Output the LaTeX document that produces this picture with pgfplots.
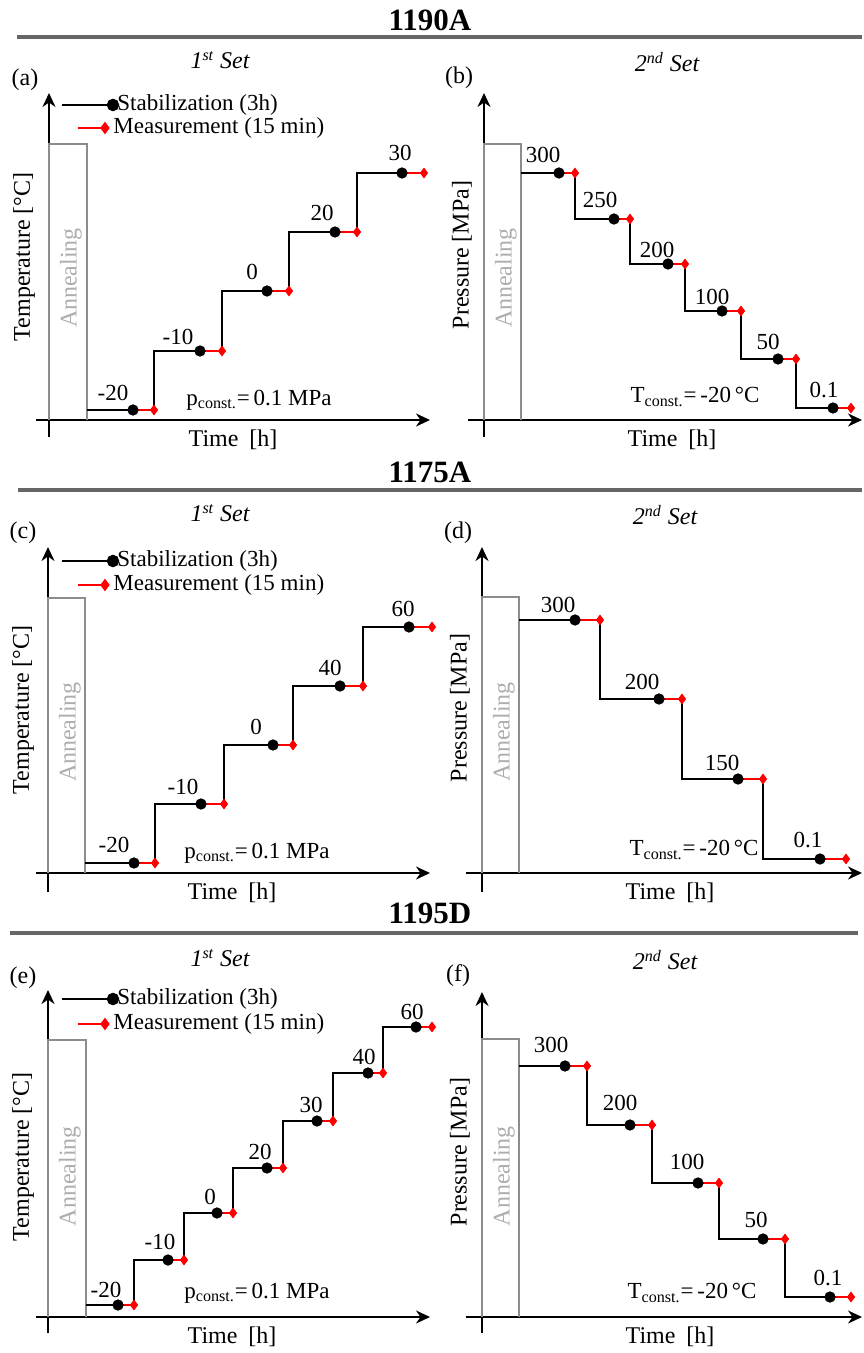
\documentclass[border=0pt]{standalone}
\usepackage{fontspec}
\setmainfont{Liberation Serif}
\usepackage{pgfplots}
\pgfplotsset{compat=1.18}
\usetikzlibrary{arrows.meta}

\newcommand{\fs}{\fontsize{11.5}{13}\selectfont}
\newcommand{\fa}{\fontsize{12}{14}\selectfont}

\pgfplotsset{
  panel/.style={
    axis lines=middle,
    x=0.5pt, y=0.5pt,
    xtick=\empty, ytick=\empty,
    clip=false,
    anchor=south west,
    axis line style={line width=1.4pt, -{Stealth[length=7pt,width=6.5pt]}},
  },
  steps/.style={black, line width=1pt, const plot, no marks},
  meas/.style={red, line width=0.9pt, no marks, unbounded coords=jump},
  dots/.style={only marks, mark=*, mark size=2.6pt, black},
  dias/.style={only marks, mark=diamond*, mark size=2.4pt, red},
  box/.style={black!45, line width=0.7pt, no marks},
}
\tikzset{anneal/.style={black!32, rotate=90, font=\fa}}

\begin{document}
\begin{tikzpicture}
\useasboundingbox (0pt,0pt) rectangle (431.5pt,-676.5pt);

% section titles and rules
\node[font=\fontsize{15.5}{18}\selectfont\bfseries] at (215pt,-10pt) {1190A};
\draw[line width=2pt, black!60] (8.5pt,-18.5pt) -- (431pt,-18.5pt);
\node[font=\fontsize{15.5}{18}\selectfont\bfseries] at (215pt,-236pt) {1175A};
\draw[line width=2pt, black!60] (9pt,-245pt) -- (431pt,-245pt);
\node[font=\fontsize{15.5}{18}\selectfont\bfseries] at (215pt,-456.5pt) {1195D};
\draw[line width=2pt, black!60] (5pt,-466.5pt) -- (429pt,-466.5pt);

% (a) 1190A, temperature steps
\begin{axis}[panel, xmin=-13, xmax=381, ymin=-17, ymax=327, at={(18pt,-218.5pt)}]
\addplot[box] coordinates {(0,0) (0,276) (38,276) (38,0)};
\addplot[steps] coordinates {(38,10) (105,69) (173,129) (240,188) (308,247) (375,247)};
\addplot[meas] coordinates {(84,10) (105,10) (nan,nan) (151,69) (173,69) (nan,nan) (218,129) (240,129) (nan,nan) (286,188) (308,188) (nan,nan) (353,247) (375,247)};
\addplot[dots] coordinates {(84,10) (151,69) (218,129) (286,188) (353,247)};
\addplot[dias] coordinates {(105,10) (173,69) (240,129) (308,188) (375,247)};
\addplot[black, line width=1pt, mark=*, mark size=2.6pt, mark indices={2}] coordinates {(13,315) (64,315)};
\addplot[red, line width=0.9pt, mark=diamond*, mark size=2.4pt, mark indices={2}] coordinates {(29,292) (56,292)};
\node[anchor=west, inner sep=0pt, font=\fs] at (axis cs:68,315) {Stabilization (3h)};
\node[anchor=west, inner sep=0pt, font=\fs] at (axis cs:64,292) {Measurement (15 min)};
\node[font=\fs] at (axis cs:64,27) {-20};
\node[font=\fs] at (axis cs:129,83) {-10};
\node[font=\fs] at (axis cs:203,148) {0};
\node[font=\fs] at (axis cs:273,207) {20};
\node[font=\fs] at (axis cs:351,267) {30};
\node[anneal] at (axis cs:22,142) {Annealing};
\node[font=\fs] at (axis cs:210,20) {p\textsubscript{const.}=\,0.1 MPa};
\node[font=\fa] at (axis cs:184,-20) {Time\hspace{0.45em}[h]};
\node[font=\fa, rotate=90] at (axis cs:-25,163) {Temperature [°C]};
\node[font=\fa] at (axis cs:-24,340) {(a)};
\node[font=\fa\itshape] at (axis cs:171,360) {1\textsuperscript{st} Set};
\end{axis}

% (b) 1190A, pressure steps
\begin{axis}[panel, xmin=-16, xmax=378, ymin=-17, ymax=327, at={(234pt,-218.5pt)}]
\addplot[box] coordinates {(0,0) (0,276) (37,276) (37,0)};
\addplot[steps] coordinates {(37,247) (91,201) (146,156) (201,109) (257,61) (312,12) (367,12)};
\addplot[meas] coordinates {(75,247) (91,247) (nan,nan) (130,201) (146,201) (nan,nan) (184,156) (201,156) (nan,nan) (238,109) (257,109) (nan,nan) (294,61) (312,61) (nan,nan) (349,12) (367,12)};
\addplot[dots] coordinates {(75,247) (130,201) (184,156) (238,109) (294,61) (349,12)};
\addplot[dias] coordinates {(91,247) (146,201) (201,156) (257,109) (312,61) (367,12)};
\node[font=\fs] at (axis cs:59,265) {300};
\node[font=\fs] at (axis cs:116,220) {250};
\node[font=\fs] at (axis cs:173,170) {200};
\node[font=\fs] at (axis cs:228,123) {100};
\node[font=\fs] at (axis cs:284,78) {50};
\node[font=\fs] at (axis cs:340,30) {0.1};
\node[anneal] at (axis cs:22,142) {Annealing};
\node[font=\fs] at (axis cs:211,23) {T\textsubscript{const.}=\,-20\,°C};
\node[font=\fa] at (axis cs:188,-20) {Time\hspace{0.45em}[h]};
\node[font=\fa, rotate=90] at (axis cs:-22,165) {Pressure [MPa]};
\node[font=\fa] at (axis cs:-25,342) {(b)};
\node[font=\fa\itshape] at (axis cs:183,358) {2\textsuperscript{nd} Set};
\end{axis}

% (c) 1175A, temperature steps
\begin{axis}[panel, xmin=-12, xmax=382, ymin=-19, ymax=326, at={(18pt,-446pt)}]
\addplot[box] coordinates {(0,0) (0,275) (37,275) (37,0)};
\addplot[steps] coordinates {(37,10) (107,69) (176,128) (245,187) (315,246) (384,246)};
\addplot[meas] coordinates {(86,10) (107,10) (nan,nan) (153,69) (176,69) (nan,nan) (225,128) (245,128) (nan,nan) (292,187) (315,187) (nan,nan) (361,246) (384,246)};
\addplot[dots] coordinates {(86,10) (153,69) (225,128) (292,187) (361,246)};
\addplot[dias] coordinates {(107,10) (176,69) (245,128) (315,187) (384,246)};
\addplot[black, line width=1pt, mark=*, mark size=2.6pt, mark indices={2}] coordinates {(14,312) (65,312)};
\addplot[red, line width=0.9pt, mark=diamond*, mark size=2.4pt, mark indices={2}] coordinates {(30,288) (57,288)};
\node[anchor=west, inner sep=0pt, font=\fs] at (axis cs:69,312) {Stabilization (3h)};
\node[anchor=west, inner sep=0pt, font=\fs] at (axis cs:65,288) {Measurement (15 min)};
\node[font=\fs] at (axis cs:66,28) {-20};
\node[font=\fs] at (axis cs:135,86) {-10};
\node[font=\fs] at (axis cs:208,146) {0};
\node[font=\fs] at (axis cs:282,205) {40};
\node[font=\fs] at (axis cs:355,264) {60};
\node[anneal] at (axis cs:22,141) {Annealing};
\node[font=\fs] at (axis cs:209,20) {p\textsubscript{const.}=\,0.1 MPa};
\node[font=\fa] at (axis cs:184,-20) {Time\hspace{0.45em}[h]};
\node[font=\fa, rotate=90] at (axis cs:-25,163) {Temperature [°C]};
\node[font=\fa] at (axis cs:-25,340) {(c)};
\node[font=\fa\itshape] at (axis cs:172,360) {1\textsuperscript{st} Set};
\end{axis}

% (d) 1175A, pressure steps
\begin{axis}[panel, xmin=-16, xmax=380, ymin=-19, ymax=326, at={(233pt,-446pt)}]
\addplot[box] coordinates {(0,0) (0,276) (37,276) (37,0)};
\addplot[steps] coordinates {(37,253) (118,174) (200,94) (281,14) (364,14)};
\addplot[meas] coordinates {(93,253) (118,253) (nan,nan) (177,174) (200,174) (nan,nan) (256,94) (281,94) (nan,nan) (338,14) (364,14)};
\addplot[dots] coordinates {(93,253) (177,174) (256,94) (338,14)};
\addplot[dias] coordinates {(118,253) (200,174) (281,94) (364,14)};
\node[font=\fs] at (axis cs:76,268) {300};
\node[font=\fs] at (axis cs:160,191) {200};
\node[font=\fs] at (axis cs:240,110) {150};
\node[font=\fs] at (axis cs:326,33) {0.1};
\node[anneal] at (axis cs:22,141) {Annealing};
\node[font=\fs] at (axis cs:212,23) {T\textsubscript{const.}=\,-20\,°C};
\node[font=\fa] at (axis cs:188,-20) {Time\hspace{0.45em}[h]};
\node[font=\fa, rotate=90] at (axis cs:-22,165) {Pressure [MPa]};
\node[font=\fa] at (axis cs:-24,340) {(d)};
\node[font=\fa\itshape] at (axis cs:183,358) {2\textsuperscript{nd} Set};
\end{axis}

% (e) 1195D, temperature steps
\begin{axis}[panel, xmin=-12, xmax=382, ymin=-16, ymax=327, at={(18pt,-666.5pt)}]
\addplot[box] coordinates {(0,0) (0,277) (38,277) (38,0)};
\addplot[steps] coordinates {(38,12) (86,57) (136,104) (185,149) (235,196) (285,244) (335,290) (384,290)};
\addplot[meas] coordinates {(70,12) (86,12) (nan,nan) (120,57) (136,57) (nan,nan) (169,104) (185,104) (nan,nan) (219,149) (235,149) (nan,nan) (269,196) (285,196) (nan,nan) (320,244) (335,244) (nan,nan) (368,290) (384,290)};
\addplot[dots] coordinates {(70,12) (120,57) (169,104) (219,149) (269,196) (320,244) (368,290)};
\addplot[dias] coordinates {(86,12) (136,57) (185,104) (235,149) (285,196) (335,244) (384,290)};
\addplot[black, line width=1pt, mark=*, mark size=2.6pt, mark indices={2}] coordinates {(14,318) (65,318)};
\addplot[red, line width=0.9pt, mark=diamond*, mark size=2.4pt, mark indices={2}] coordinates {(30,293) (57,293)};
\node[anchor=west, inner sep=0pt, font=\fs] at (axis cs:69,318) {Stabilization (3h)};
\node[anchor=west, inner sep=0pt, font=\fs] at (axis cs:65,293) {Measurement (15 min)};
\node[font=\fs] at (axis cs:58,27) {-20};
\node[font=\fs] at (axis cs:112,75) {-10};
\node[font=\fs] at (axis cs:162,120) {0};
\node[font=\fs] at (axis cs:212,165) {20};
\node[font=\fs] at (axis cs:263,212) {30};
\node[font=\fs] at (axis cs:316,260) {40};
\node[font=\fs] at (axis cs:364,305) {60};
\node[anneal] at (axis cs:22,141) {Annealing};
\node[font=\fs] at (axis cs:209,24) {p\textsubscript{const.}=\,0.1 MPa};
\node[font=\fa] at (axis cs:184,-20) {Time\hspace{0.45em}[h]};
\node[font=\fa, rotate=90] at (axis cs:-25,160) {Temperature [°C]};
\node[font=\fa] at (axis cs:-25,339) {(e)};
\node[font=\fa\itshape] at (axis cs:172,359) {1\textsuperscript{st} Set};
\end{axis}

% (f) 1195D, pressure steps
\begin{axis}[panel, xmin=-16, xmax=380, ymin=-16, ymax=325, at={(233pt,-666.5pt)}]
\addplot[box] coordinates {(0,0) (0,278) (37,278) (37,0)};
\addplot[steps] coordinates {(37,251) (105,192) (170,134) (237,78) (303,20) (369,20)};
\addplot[meas] coordinates {(83,251) (105,251) (nan,nan) (148,192) (170,192) (nan,nan) (216,134) (237,134) (nan,nan) (281,78) (303,78) (nan,nan) (348,20) (369,20)};
\addplot[dots] coordinates {(83,251) (148,192) (216,134) (281,78) (348,20)};
\addplot[dias] coordinates {(105,251) (170,192) (237,134) (303,78) (369,20)};
\node[font=\fs] at (axis cs:69,272) {300};
\node[font=\fs] at (axis cs:138,214) {200};
\node[font=\fs] at (axis cs:205,155) {100};
\node[font=\fs] at (axis cs:274,97) {50};
\node[font=\fs] at (axis cs:346,39) {0.1};
\node[anneal] at (axis cs:22,141) {Annealing};
\node[font=\fs] at (axis cs:210,24) {T\textsubscript{const.}=\,-20\,°C};
\node[font=\fa] at (axis cs:188,-20) {Time\hspace{0.45em}[h]};
\node[font=\fa, rotate=90] at (axis cs:-22,165) {Pressure [MPa]};
\node[font=\fa] at (axis cs:-24,341) {(f)};
\node[font=\fa\itshape] at (axis cs:183,357) {2\textsuperscript{nd} Set};
\end{axis}
\end{tikzpicture}
\end{document}
